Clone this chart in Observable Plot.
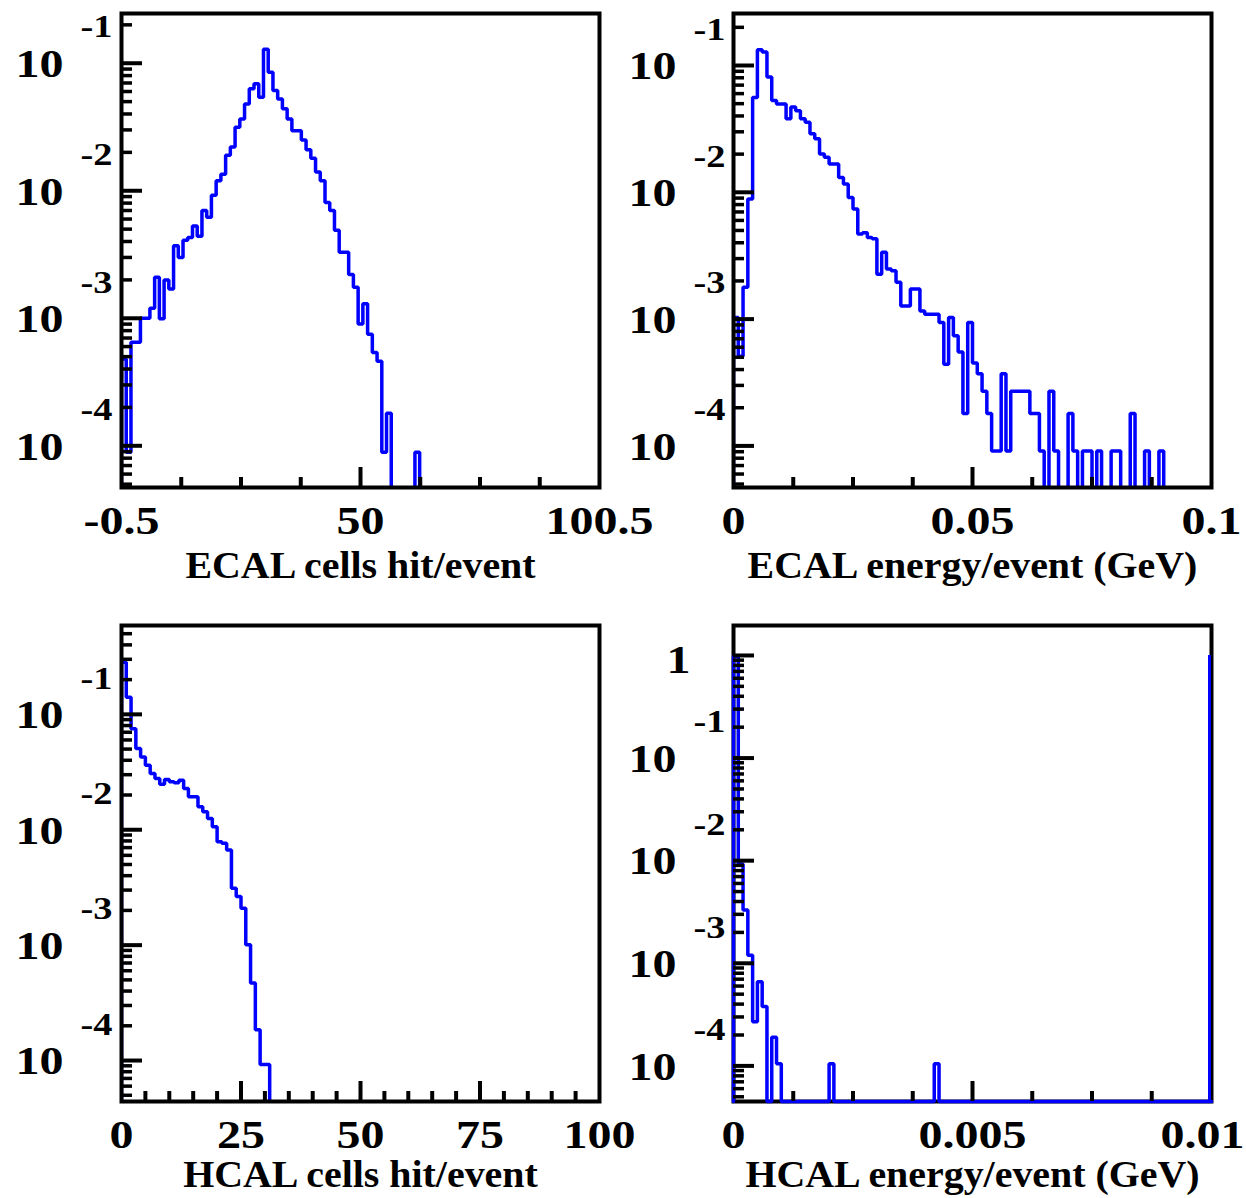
<!DOCTYPE html>
<html>
<head>
<meta charset="utf-8">
<script src="https://cdn.jsdelivr.net/npm/d3@7"></script>
<script src="https://cdn.jsdelivr.net/npm/@observablehq/plot@0.6"></script>
<style>
  html, body { margin: 0; padding: 0; background: #ffffff; }
  #root { position: relative; width: 1246px; height: 1198px; overflow: hidden; background: #ffffff; }
  .panel { position: absolute; }
</style>
</head>
<body>
<div id="root"></div>
<script>
// ---------------- DATA ----------------
// Fraction of events per bin (0 = empty bin)

// ECAL cells hit/event: bins of width 1 starting at -0.5
const ecalCellsHits = [
  4.8e-4, 8.9e-5, 6.5e-4, 6.5e-4, 1.0e-3, 1.0e-3, 1.2e-3, 2.1e-3, 9.9e-4, 2.0e-3,
  1.7e-3, 3.7e-3, 3.0e-3, 4.1e-3, 4.3e-3, 5.3e-3, 4.4e-3, 7.0e-3, 6.2e-3, 9.2e-3,
  1.2e-2, 1.35e-2, 1.9e-2, 2.2e-2, 3.15e-2, 3.65e-2, 4.8e-2, 6.3e-2, 6.9e-2, 5.4e-2,
  1.29e-1, 8.5e-2, 6.1e-2, 5.25e-2, 4.4e-2, 3.65e-2, 2.95e-2, 2.95e-2, 2.5e-2, 2.1e-2,
  1.8e-2, 1.4e-2, 1.2e-2, 8.1e-3, 7.0e-3, 4.9e-3, 3.3e-3, 3.3e-3, 2.2e-3, 1.75e-3,
  9.0e-4, 1.3e-3, 7.5e-4, 5.4e-4, 4.6e-4, 8.9e-5, 1.8e-4, 0, 0, 0,
  0, 0, 8.9e-5
];

// ECAL energy/event (GeV): bins of width 0.001 starting at 0
const ecalEnergy = [
  1.03e-3, 5.1e-4, 1.78e-3, 8.85e-3, 5.6e-2, 1.33e-1, 1.28e-1, 8.1e-2, 5.3e-2, 4.98e-2,
  4.98e-2, 3.8e-2, 4.7e-2, 4.4e-2, 3.8e-2, 3.57e-2, 2.9e-2, 2.64e-2, 2.0e-2, 1.89e-2,
  1.67e-2, 1.67e-2, 1.31e-2, 1.16e-2, 9.1e-3, 7.4e-3, 4.7e-3, 4.8e-3, 4.4e-3, 4.3e-3,
  2.26e-3, 3.36e-3, 2.48e-3, 2.41e-3, 1.95e-3, 1.27e-3, 1.27e-3, 1.73e-3, 1.73e-3, 1.16e-3,
  1.09e-3, 1.09e-3, 1.09e-3, 9.4e-4, 4.4e-4, 1.03e-3, 7.4e-4, 5.5e-4, 1.8e-4, 9.4e-4,
  4.5e-4, 3.7e-4, 2.7e-4, 1.8e-4, 9.1e-5, 9.1e-5, 3.7e-4, 9.1e-5, 2.7e-4, 2.7e-4,
  2.7e-4, 2.7e-4, 1.8e-4, 1.8e-4, 9.1e-5, 0, 2.7e-4, 9.1e-5, 0, 0,
  1.8e-4, 9.1e-5, 0, 9.1e-5, 9.1e-5, 0, 9.1e-5, 0, 0, 9.1e-5,
  9.1e-5, 0, 0, 1.8e-4, 0, 0, 9.1e-5, 0, 0, 9.1e-5
];

// HCAL cells hit/event: bins of width 1 starting at 0
const hcalCellsHits = [
  0.283, 0.141, 0.0751, 0.0505, 0.0428, 0.0362, 0.0307, 0.0278, 0.0248, 0.0272,
  0.0260, 0.0255, 0.0269, 0.0228, 0.0193, 0.0193, 0.0158, 0.0143, 0.0125, 0.0106,
  0.00787, 0.00762, 0.00667, 0.00311, 0.00264, 0.00209, 0.00101, 0.000469, 0.000185, 0.0000922,
  0.0000922
];

// HCAL energy/event (GeV): bins of width 0.0001 starting at 0 (100 bins)
const hcalEnergy = [
  0.984, 9.3e-3, 3.3e-3, 1.2e-3, 2.7e-4, 6.6e-4, 3.8e-4, 0, 1.9e-4, 1.05e-4,
  0, 0, 0, 0, 0, 0, 0, 0, 0, 0,
  1.05e-4, 0, 0, 0, 0, 0, 0, 0, 0, 0,
  0, 0, 0, 0, 0, 0, 0, 0, 0, 0,
  0, 0, 1.05e-4, 0, 0, 0, 0, 0, 0, 0,
  0, 0, 0, 0, 0, 0, 0, 0, 0, 0,
  0, 0, 0, 0, 0, 0, 0, 0, 0, 0,
  0, 0, 0, 0, 0, 0, 0, 0, 0, 0,
  0, 0, 0, 0, 0, 0, 0, 0, 0, 0,
  0, 0, 0, 0, 0, 0, 0, 0, 0, 0
];
// value of the line drawn at the upper edge of the HCAL energy range
const hcalEnergyOverflow = 1.0;

// axis titles
const axisTitles = ["ECAL cells hit/event", "ECAL energy/event (GeV)", "HCAL cells hit/event", "HCAL energy/event (GeV)"];

// x tick labels (value, text)
const ecalCellsXLabels = [-0.5, 50, 100.5];
const ecalCellsXLabelText = ["-0.5", "50", "100.5"];
const ecalEnergyXLabels = [0, 0.05, 0.1];
const ecalEnergyXLabelText = ["0", "0.05", "0.1"];
const hcalCellsXLabels = [0, 25, 50, 75, 100];
const hcalCellsXLabelText = ["0", "25", "50", "75", "100"];
const hcalEnergyXLabels = [0, 0.005, 0.01];
const hcalEnergyXLabelText = ["0", "0.005", "0.01"];

// y tick labels: decade exponents
const ecalCellsYExp = [-1, -2, -3, -4];
const ecalEnergyYExp = [-1, -2, -3, -4];
const hcalCellsYExp = [-1, -2, -3, -4];
const hcalEnergyYExp = [0, -1, -2, -3, -4];

// axis ranges
const ecalCellsXRange = [-0.5, 100.5];
const ecalEnergyXRange = [0, 0.1];
const hcalCellsXRange = [0, 100];
const hcalEnergyXRange = [0, 0.01];
const ecalCellsYRange = [10 ** -4.327, 10 ** -0.610];
const ecalEnergyYRange = [10 ** -4.328, 10 ** -0.590];
const hcalCellsYRange = [10 ** -4.355, 10 ** -0.230];
const hcalEnergyYRange = [10 ** -4.347, 10 ** 0.292];

// ---------------- DRAWING ----------------
const FONT = "'Liberation Serif', 'Times New Roman', Times, serif";
const BLUE = "#0000ff";
const LABEL_SIZE = 40, EXP_SIZE = 32, TITLE_SIZE = 38;
const LABEL_STRETCH = 1.2, TITLE_STRETCH = 1.05;

function stepPoints(values, x0, w, floor) {
  const pts = [{x: x0, y: floor}];
  values.forEach((v, i) => pts.push({x: x0 + i * w, y: v > 0 ? v : floor}));
  const n = values.length;
  pts.push({x: x0 + n * w, y: values[n - 1] > 0 ? values[n - 1] : floor});
  pts.push({x: x0 + n * w, y: floor});
  return pts;
}

function logTicks(domain) {
  const lo = Math.floor(Math.log10(domain[0])), hi = Math.ceil(Math.log10(domain[1]));
  const major = [], minor = [];
  for (let d = lo; d <= hi; d++) {
    const b = 10 ** d;
    if (b >= domain[0] && b <= domain[1]) major.push(b);
    for (let m = 2; m <= 9; m++) {
      const v = m * b;
      if (v >= domain[0] && v <= domain[1]) minor.push(v);
    }
  }
  return {major, minor};
}

// widen glyphs horizontally around their anchor point
function stretchTexts(svg) {
  svg.querySelectorAll("text").forEach(t => {
    const fs = +(t.getAttribute("font-size") || (t.parentNode && t.parentNode.getAttribute("font-size")) || 0);
    const s = fs === TITLE_SIZE ? TITLE_STRETCH : LABEL_STRETCH;
    let tr = t.getAttribute("transform");
    if (!tr) {
      const x = +(t.getAttribute("x") || 0), y = +(t.getAttribute("y") || 0);
      t.removeAttribute("x"); t.removeAttribute("y");
      tr = `translate(${x},${y})`;
    }
    t.setAttribute("transform", tr + ` scale(${s},1)`);
  });
}

function panel(cfg) {
  const W = 623, H = 599;
  const fw = W - cfg.ml - cfg.mr, fh = H - cfg.mt - cfg.mb;
  const yt = logTicks(cfg.yDomain);
  const floor = cfg.clip ? 1e-9 : cfg.yDomain[0];
  const pts = stepPoints(cfg.values, cfg.x0, cfg.binWidth, floor);
  const textStyle = {fontFamily: FONT, fontWeight: "bold", fill: "black"};
  const nL = cfg.xLabels.length;

  const hist = Plot.line(pts, {x: "x", y: "y", curve: "step-after", stroke: BLUE, strokeWidth: 3.5, clip: cfg.clip, strokeLinejoin: "miter"});
  const frame = Plot.frame({stroke: "black", strokeWidth: 4});
  const marks = cfg.clip ? [hist, frame] : [frame, hist];
  if (cfg.edgeValue != null) {
    marks.push(Plot.ruleX([cfg.xDomain[1]], {x: d => d, y1: cfg.yDomain[0], y2: cfg.edgeValue, stroke: BLUE, strokeWidth: 3, dx: -2}));
  }
  marks.push(
    Plot.tickY(yt.major, {y: d => d, stroke: "black", strokeWidth: 4, insetRight: fw - 21}),
    Plot.tickY(yt.minor, {y: d => d, stroke: "black", strokeWidth: 3.5, insetRight: fw - 11}),
    Plot.tickX(cfg.xMinor, {x: d => d, stroke: "black", strokeWidth: 4, insetTop: fh - 10}),
    Plot.tickX(cfg.xMajor, {x: d => d, stroke: "black", strokeWidth: 4, insetTop: fh - 20}),
    Plot.text(cfg.xLabels.slice(0, nL - 1), {x: d => d, text: (d, i) => cfg.xLabelText[i], frameAnchor: "bottom", dy: cfg.xLabelDy, fontSize: LABEL_SIZE, ...textStyle}),
    Plot.text(cfg.xLabels.slice(nL - 1), {x: d => d, text: () => cfg.xLabelText[nL - 1], frameAnchor: "bottom", dy: cfg.xLabelDy, dx: cfg.lastLabelDx || 0, fontSize: LABEL_SIZE, ...textStyle}),
    Plot.text(cfg.yExp.filter(e => e !== 0), {y: e => 10 ** e, text: () => "10", frameAnchor: "left", textAnchor: "end", dx: cfg.tenDx, dy: 1, fontSize: LABEL_SIZE, ...textStyle}),
    Plot.text(cfg.yExp.filter(e => e !== 0), {y: e => 10 ** e, text: e => String(e), frameAnchor: "left", textAnchor: "end", dx: cfg.expDx, dy: -36, fontSize: EXP_SIZE, ...textStyle}),
    Plot.text(cfg.yExp.filter(e => e === 0), {y: e => 10 ** e, text: () => "1", frameAnchor: "left", textAnchor: "end", dx: cfg.oneDx, dy: 5, fontSize: LABEL_SIZE, ...textStyle}),
    Plot.text([cfg.title], {text: d => d, frameAnchor: "bottom", dy: cfg.titleDy, fontSize: TITLE_SIZE, ...textStyle})
  );

  const svg = Plot.plot({
    width: W, height: H,
    marginLeft: cfg.ml, marginRight: cfg.mr, marginTop: cfg.mt, marginBottom: cfg.mb,
    x: {domain: cfg.xDomain, axis: null},
    y: {type: "log", domain: cfg.yDomain, axis: null},
    style: {background: "transparent", overflow: "visible"},
    marks
  });
  stretchTexts(svg);
  const holder = document.createElement("div");
  holder.className = "panel";
  holder.style.left = cfg.left + "px";
  holder.style.top = cfg.top + "px";
  holder.appendChild(svg);
  document.getElementById("root").appendChild(holder);
}

const ecalDiv = d3.range(1, 8);

panel({
  left: 0, top: 0, ml: 121, mr: 24, mt: 13, mb: 112,
  values: ecalCellsHits, x0: -0.5, binWidth: 1, clip: true,
  xDomain: ecalCellsXRange, yDomain: ecalCellsYRange,
  xMinor: ecalDiv.filter(k => k !== 4).map(k => -0.5 + k * 101 / 8), xMajor: [50],
  xLabels: ecalCellsXLabels, xLabelText: ecalCellsXLabelText, xLabelDy: 46,
  yExp: ecalCellsYExp, tenDx: -58, expDx: -9, oneDx: -43,
  title: axisTitles[0], titleDy: 90
});

panel({
  left: 623, top: 0, ml: 110, mr: 35, mt: 13, mb: 112,
  values: ecalEnergy, x0: 0, binWidth: 0.001, clip: true,
  xDomain: ecalEnergyXRange, yDomain: ecalEnergyYRange,
  xMinor: ecalDiv.filter(k => k !== 4).map(k => k * 0.0125), xMajor: [0.05],
  xLabels: ecalEnergyXLabels, xLabelText: ecalEnergyXLabelText, xLabelDy: 46,
  yExp: ecalEnergyYExp, tenDx: -57, expDx: -8, oneDx: -43,
  title: axisTitles[1], titleDy: 90
});

panel({
  left: 0, top: 599, ml: 121, mr: 24, mt: 26, mb: 97,
  values: hcalCellsHits, x0: 0, binWidth: 1, clip: true,
  xDomain: hcalCellsXRange, yDomain: hcalCellsYRange,
  xMinor: d3.range(5, 100, 5).filter(v => v % 25 !== 0), xMajor: [25, 50, 75],
  xLabels: hcalCellsXLabels, xLabelText: hcalCellsXLabelText, xLabelDy: 46,
  yExp: hcalCellsYExp, tenDx: -58, expDx: -9, oneDx: -43,
  title: axisTitles[2], titleDy: 85
});

panel({
  left: 623, top: 599, ml: 110, mr: 35, mt: 26, mb: 97,
  values: hcalEnergy, x0: 0, binWidth: 0.0001, clip: false, edgeValue: hcalEnergyOverflow,
  xDomain: hcalEnergyXRange, yDomain: hcalEnergyYRange,
  xMinor: ecalDiv.filter(k => k !== 4).map(k => k * 0.00125), xMajor: [0.005],
  xLabels: hcalEnergyXLabels, xLabelText: hcalEnergyXLabelText, xLabelDy: 46, lastLabelDx: -9,
  yExp: hcalEnergyYExp, tenDx: -57, expDx: -8, oneDx: -43,
  title: axisTitles[3], titleDy: 85
});
</script>
</body>
</html>
